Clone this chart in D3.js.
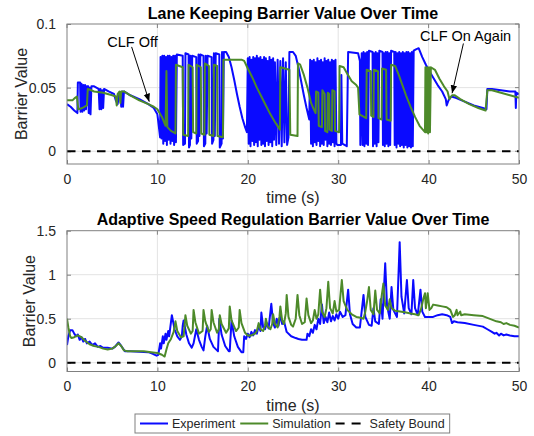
<!DOCTYPE html>
<html>
<head>
<meta charset="utf-8">
<script src="https://cdn.jsdelivr.net/npm/d3@7"></script>
<style>
  body { margin: 0; background: #fff; }
  svg { display: block; font-family: "Liberation Sans", Arial, Helvetica, sans-serif; }
</style>
</head>
<body>
<div id="chart"></div>
<script>
const xTicks = [0, 10, 20, 30, 40, 50];
const yTicksTop = [0, 0.05, 0.1];
const yTicksBottom = [0, 0.5, 1, 1.5];
const safetyBound = 0;

// lane keeping barrier, experiment [time, value]
const expTop = [
  [0,0.037],[0.4,0.035],[0.8,0.032],[1.15,0.030],[1.2,0.054],[1.45,0.054],[1.5,0.031],[1.6,0.053],[1.7,0.031],[1.8,0.052],
  [1.9,0.032],[2.0,0.052],[2.1,0.033],[2.2,0.051],[2.35,0.051],[2.4,0.030],[2.5,0.050],[2.6,0.029],[2.7,0.051],[3.0,0.051],
  [3.5,0.049],[3.6,0.033],[3.7,0.049],[3.8,0.033],[3.9,0.048],[4.0,0.034],[4.1,0.049],[4.6,0.047],[5.2,0.045],[5.4,0.040],
  [5.6,0.037],[5.75,0.044],[5.9,0.046],[6.0,0.035],[6.1,0.047],[6.2,0.035],[6.3,0.047],[7.0,0.044],[8.0,0.041],[9.0,0.037],
  [9.6,0.034],[10.0,0.029],[10.2,0.017],[10.3,0.011],
  [10.35,0.074],[10.45,0.010],[10.55,0.075],[10.65,0.006],[10.75,0.075],[10.85,0.008],[10.95,0.074],[11.05,0.005],[11.15,0.075],
  [11.25,0.009],[11.35,0.075],[11.45,0.006],[11.55,0.074],[11.65,0.008],[11.75,0.075],[11.85,0.005],[11.95,0.075],[12.05,0.007],
  [12.15,0.076],[12.8,0.075],[12.85,0.005],[13.05,0.006],[13.1,0.077],[13.45,0.076],[13.5,0.003],[13.6,0.005],[13.65,0.075],
  [13.75,0.010],[13.85,0.075],[14.3,0.074],[14.35,0.006],[14.5,0.008],[14.55,0.076],[14.65,0.012],[14.75,0.076],[15.1,0.075],
  [15.15,0.004],[15.3,0.006],[15.35,0.075],[15.45,0.014],[15.55,0.075],[16.0,0.074],[16.05,0.006],[16.2,0.009],[16.25,0.077],
  [16.35,0.012],[16.45,0.077],[16.85,0.076],[16.9,0.003],[17.1,0.006],[17.15,0.078],[17.25,0.010],[17.35,0.078],
  [17.6,0.078],[17.9,0.074],[18.2,0.066],[18.5,0.056],[18.8,0.045],[19.1,0.035],[19.4,0.026],[19.7,0.019],[19.9,0.015],
  [20.0,0.073],[20.1,0.006],[20.2,0.074],[20.3,0.004],[20.4,0.072],[20.5,0.008],[20.6,0.074],[20.7,0.005],[20.8,0.073],
  [20.9,0.007],[21.0,0.075],[21.1,0.004],[21.2,0.073],[21.3,0.009],[21.4,0.074],[21.5,0.005],[21.6,0.072],[21.7,0.006],
  [21.8,0.074],[21.9,0.004],[22.0,0.073],[22.1,0.008],[22.2,0.071],[22.3,0.005],[22.4,0.074],[22.5,0.007],[22.6,0.072],
  [22.7,0.004],[22.8,0.073],[22.9,0.009],[23.0,0.070],[23.15,0.005],[23.3,0.072],[23.45,0.006],[23.6,0.071],[23.75,0.004],
  [23.9,0.073],[24.05,0.007],[24.2,0.070],[24.35,0.005],[24.5,0.011],
  [24.6,0.078],[25.0,0.078],[25.3,0.075],[25.6,0.066],[25.9,0.055],[26.2,0.044],[26.5,0.034],[26.8,0.025],
  [26.9,0.072],[27.0,0.006],[27.1,0.071],[27.2,0.004],[27.3,0.072],[27.4,0.007],[27.5,0.070],[27.6,0.005],[27.7,0.073],
  [27.8,0.008],[27.9,0.071],[28.0,0.004],[28.1,0.072],[28.2,0.006],[28.3,0.070],[28.4,0.005],[28.5,0.073],[28.6,0.009],
  [28.7,0.071],[28.8,0.004],[28.9,0.072],[29.0,0.006],[29.1,0.070],[29.2,0.005],[29.3,0.072],[29.4,0.007],[29.5,0.071],
  [29.6,0.004],[29.7,0.072],[29.8,0.006],[29.9,0.005],
  [30.3,0.005],[30.35,0.060],[30.45,0.006],[30.95,0.004],[31.1,0.078],[32.2,0.077],[32.4,0.071],[32.45,0.005],
  [32.6,0.077],[32.7,0.005],[32.8,0.078],[32.9,0.004],[33.0,0.077],[33.1,0.006],[33.2,0.078],[33.3,0.005],[33.4,0.079],
  [33.8,0.078],[33.85,0.004],[33.95,0.077],[34.05,0.006],[34.15,0.078],[34.25,0.004],[34.35,0.077],[34.45,0.007],[34.55,0.079],
  [34.9,0.078],[34.95,0.005],[35.05,0.077],[35.15,0.004],[35.25,0.078],[35.35,0.006],[35.45,0.078],[35.55,0.004],[35.65,0.077],
  [35.75,0.005],[35.85,0.079],[36.2,0.078],[36.25,0.005],[36.35,0.078],[36.45,0.003],[36.55,0.077],[36.65,0.006],[36.75,0.078],
  [36.85,0.004],[36.95,0.077],[37.05,0.005],[37.15,0.078],[37.25,0.003],[37.35,0.077],[37.45,0.005],[37.55,0.078],[37.65,0.003],
  [37.75,0.078],[37.85,0.004],[37.95,0.077],[38.05,0.003],[38.15,0.078],[38.25,0.004],[38.35,0.079],
  [38.6,0.080],[38.9,0.081],[39.3,0.074],[39.7,0.068],[40.0,0.064],[40.5,0.058],[41.0,0.052],[41.5,0.047],[41.9,0.041],
  [42.0,0.036],[42.2,0.040],[42.5,0.043],[43.0,0.042],[44.0,0.039],[45.0,0.036],[46.0,0.034],[46.4,0.033],[46.5,0.049],
  [47.0,0.049],[48.0,0.048],[49.0,0.047],[49.6,0.047],[49.65,0.034],[49.7,0.046],[50,0.045]
];

// lane keeping barrier, simulation
const simTop = [
  [0,0.040],[0.6,0.040],[0.9,0.042],[1.1,0.043],[1.25,0.033],[1.7,0.034],[2.2,0.036],[2.3,0.049],[3.0,0.047],[4.0,0.046],
  [5.0,0.044],[5.4,0.043],[5.5,0.036],[5.6,0.045],[5.8,0.047],[5.9,0.038],[6.0,0.047],[6.3,0.047],[7.0,0.044],[8.0,0.040],
  [9.0,0.037],[9.6,0.035],[10.0,0.033],[10.5,0.027],[10.9,0.020],[11.0,0.063],[11.1,0.019],[11.5,0.016],[12.0,0.014],
  [12.05,0.068],[12.8,0.066],[12.85,0.013],[13.4,0.012],[13.45,0.068],[13.9,0.066],[13.95,0.015],[14.3,0.014],[14.35,0.068],
  [14.8,0.066],[14.85,0.014],[15.2,0.013],[15.25,0.069],[15.7,0.067],[15.75,0.013],[16.2,0.012],[16.25,0.068],[16.6,0.067],
  [16.65,0.012],[17.25,0.011],[17.3,0.072],[19.3,0.072],[19.6,0.071],[20.0,0.065],[20.5,0.058],[21.0,0.050],[21.5,0.043],
  [22.0,0.036],[22.5,0.029],[23.0,0.023],[23.55,0.017],[23.6,0.066],[24.6,0.064],[24.7,0.013],[25.5,0.012],[25.55,0.069],
  [25.8,0.068],[26.2,0.060],[26.6,0.050],[27.0,0.038],[27.3,0.033],[27.5,0.030],[27.55,0.047],[27.8,0.046],[27.85,0.020],
  [28.2,0.019],[28.25,0.048],[28.5,0.045],[28.55,0.016],[28.8,0.015],[28.85,0.046],[29.0,0.045],[29.05,0.017],[29.3,0.016],
  [29.35,0.048],[29.6,0.047],[29.65,0.016],[30.1,0.015],[30.15,0.067],[30.6,0.066],[31.0,0.061],[31.5,0.055],[32.0,0.052],
  [32.2,0.050],[32.35,0.029],[33.1,0.026],[33.15,0.064],[33.6,0.063],[33.65,0.028],[33.9,0.027],[33.95,0.064],[34.4,0.063],
  [34.45,0.026],[34.8,0.025],[34.85,0.065],[35.3,0.064],[35.35,0.025],[35.8,0.024],[35.85,0.068],[36.3,0.067],[36.7,0.060],
  [37.1,0.052],[37.5,0.044],[38.0,0.035],[38.5,0.027],[39.0,0.020],[39.6,0.015],[39.65,0.066],[39.75,0.015],[39.85,0.066],
  [39.95,0.014],[40.05,0.066],[40.15,0.015],[40.25,0.066],[40.7,0.064],[41.2,0.057],[41.7,0.051],[42.1,0.047],[42.3,0.041],
  [42.6,0.044],[42.9,0.044],[43.5,0.041],[44.5,0.037],[45.5,0.034],[46.3,0.032],[46.5,0.048],[47.0,0.048],[48.0,0.046],
  [49.0,0.044],[50,0.042]
];

// adaptive speed regulation barrier, experiment
const expBottom = [
  [0,0.20],[0.15,0.30],[0.35,0.37],[0.6,0.37],[0.8,0.33],[1.0,0.30],[1.2,0.32],[1.4,0.26],[1.6,0.29],[1.8,0.24],[2.0,0.27],
  [2.2,0.22],[2.5,0.24],[2.8,0.20],[3.1,0.22],[3.4,0.18],[3.7,0.19],[4.0,0.17],[4.5,0.17],[5.0,0.16],[5.3,0.18],[5.7,0.23],
  [6.0,0.19],[6.4,0.13],[7.0,0.13],[8.0,0.125],[9.0,0.12],[9.5,0.10],[9.9,0.08],[10.1,0.09],[10.3,0.22],[10.4,0.16],
  [10.6,0.30],[10.7,0.22],[10.9,0.33],[11.0,0.26],[11.2,0.36],[11.3,0.30],[11.6,0.54],[11.9,0.38],[12.2,0.30],[12.5,0.26],
  [12.7,0.30],[12.8,0.42],[12.9,0.48],[13.2,0.32],[13.5,0.22],[13.8,0.17],[14.0,0.22],[14.3,0.38],[14.6,0.26],[14.9,0.18],
  [15.1,0.14],[15.3,0.30],[15.5,0.42],[15.8,0.27],[16.2,0.18],[16.6,0.14],[16.7,0.13],[16.85,0.50],[17.1,0.32],[17.5,0.19],
  [17.9,0.13],[18.0,0.13],[18.2,0.48],[18.5,0.30],[18.9,0.18],[19.3,0.12],[19.5,0.12],[19.6,0.30],[19.8,0.27],[20.0,0.33],
  [20.2,0.29],[20.4,0.35],[20.6,0.31],[20.8,0.37],[21.0,0.33],[21.2,0.42],[21.4,0.36],[21.5,0.57],[21.7,0.40],[21.9,0.38],
  [22.1,0.45],[22.3,0.39],[22.6,0.67],[22.8,0.45],[23.0,0.40],[23.2,0.50],[23.4,0.42],[23.6,0.55],[23.8,0.44],[24.0,0.47],
  [24.1,0.43],[24.3,0.35],[24.8,0.30],[25.3,0.28],[25.6,0.27],[26.0,0.26],[26.5,0.26],[26.6,0.33],[26.8,0.30],[27.0,0.38],
  [27.2,0.34],[27.4,0.43],[27.6,0.38],[27.8,0.50],[28.0,0.44],[28.2,0.66],[28.4,0.45],[28.6,0.52],[28.8,0.46],[29.0,0.57],
  [29.2,0.47],[29.4,0.53],[29.6,0.48],[29.8,0.55],[30.0,0.50],[30.2,0.58],[30.5,0.52],[30.8,0.54],[31.1,0.83],[31.3,0.55],
  [31.6,0.44],[32.0,0.40],[32.4,0.40],[32.8,0.77],[33.0,0.52],[33.4,0.43],[33.7,0.42],[33.9,0.62],[34.1,0.47],[34.5,0.44],
  [34.7,0.72],[34.9,0.50],[35.2,1.13],[35.4,0.65],[35.7,0.50],[35.9,0.86],[36.1,0.60],[36.5,0.52],[36.8,1.37],[37.0,0.75],
  [37.3,0.56],[37.6,0.94],[37.8,0.62],[38.1,0.55],[38.3,0.94],[38.5,0.62],[38.8,0.54],[39.1,0.83],[39.3,0.58],[39.6,0.52],
  [40.0,0.52],[40.5,0.52],[41.0,0.54],[41.5,0.55],[42.0,0.54],[42.4,0.52],[42.6,0.45],[42.8,0.47],[43.2,0.46],[44.0,0.45],
  [45.0,0.43],[46.0,0.41],[46.5,0.38],[47.0,0.35],[47.3,0.33],[47.5,0.34],[47.8,0.31],[48.0,0.33],[48.3,0.31],[48.6,0.32],
  [49.0,0.31],[49.5,0.30],[50,0.30]
];

// adaptive speed regulation barrier, simulation
const simBottom = [
  [0,0.50],[0.15,0.40],[0.35,0.30],[0.5,0.28],[0.8,0.29],[1.2,0.31],[1.6,0.29],[2.0,0.25],[2.5,0.21],[3.0,0.19],[3.5,0.18],
  [4.0,0.16],[4.5,0.15],[5.0,0.16],[5.4,0.19],[5.7,0.22],[6.0,0.19],[6.3,0.14],[6.7,0.13],[7.5,0.13],[8.5,0.13],[9.3,0.12],
  [10.0,0.11],[10.5,0.09],[10.8,0.07],[11.0,0.15],[11.2,0.22],[11.5,0.27],[11.8,0.35],[12.0,0.47],[12.2,0.36],[12.6,0.29],
  [12.9,0.30],[13.1,0.54],[13.3,0.42],[13.7,0.33],[13.9,0.36],[14.0,0.60],[14.2,0.46],[14.6,0.33],[15.0,0.36],[15.1,0.60],
  [15.3,0.47],[15.7,0.35],[15.9,0.38],[16.0,0.60],[16.2,0.46],[16.6,0.34],[16.8,0.38],[16.9,0.54],[17.1,0.44],[17.6,0.34],
  [17.9,0.39],[18.0,0.64],[18.2,0.48],[18.7,0.36],[19.0,0.40],[19.1,0.60],[19.3,0.45],[19.7,0.34],[20.0,0.31],[20.4,0.31],
  [20.8,0.33],[21.0,0.36],[21.2,0.45],[21.4,0.38],[21.7,0.36],[21.9,0.42],[22.0,0.50],[22.2,0.41],[22.5,0.38],[22.7,0.44],
  [22.8,0.55],[23.0,0.44],[23.3,0.40],[23.5,0.52],[23.6,0.64],[23.8,0.48],[24.0,0.44],[24.2,0.56],[24.3,0.77],[24.5,0.52],
  [24.8,0.43],[25.0,0.41],[25.3,0.50],[25.5,0.77],[25.7,0.54],[26.0,0.44],[26.3,0.46],[26.5,0.73],[26.7,0.54],[27.0,0.45],
  [27.2,0.48],[27.4,0.60],[27.6,0.50],[27.8,0.55],[28.0,0.83],[28.2,0.58],[28.5,0.52],[28.7,0.62],[28.9,0.92],[29.1,0.62],
  [29.4,0.56],[29.6,0.70],[29.8,0.58],[30.1,0.60],[30.4,0.94],[30.6,0.70],[31.0,0.60],[31.5,0.55],[32.0,0.52],[32.5,0.51],
  [32.8,0.50],[33.0,0.58],[33.2,0.70],[33.4,0.86],[33.6,0.60],[33.9,0.55],[34.1,0.82],[34.3,0.60],[34.6,0.56],[34.8,0.75],
  [35.0,0.90],[35.2,0.65],[35.5,0.60],[35.7,0.72],[35.9,0.62],[36.3,0.59],[37.0,0.58],[37.5,0.57],[38.0,0.56],[38.5,0.55],
  [38.9,0.54],[39.2,0.62],[39.4,0.72],[39.6,0.79],[39.7,0.62],[39.8,0.70],[39.9,0.79],[40.1,0.60],[40.3,0.62],[40.5,0.66],
  [41.0,0.65],[41.5,0.64],[42.0,0.63],[42.4,0.60],[42.7,0.52],[42.9,0.54],[43.1,0.60],[43.2,0.54],[43.5,0.58],[43.6,0.54],
  [44.0,0.55],[45.0,0.54],[46.0,0.53],[46.5,0.51],[47.0,0.49],[47.5,0.47],[48.0,0.46],[48.3,0.44],[48.6,0.45],[49.0,0.43],
  [49.5,0.42],[50,0.40]
];

const legendItems = ['Experiment', 'Simulation', 'Safety Bound'];

// text position, arrow tail and arrow head in data units (top panel)
const annotations = [
  { text: 'CLF Off', tx: 7.25, ty: 0.0857, x1: 7.15, y1: 0.082, x2: 9.1, y2: 0.039 },
  { text: 'CLF On Again', tx: 44.1, ty: 0.0906, x1: 43.85, y1: 0.0847, x2: 42.6, y2: 0.0456 }
];

const width = 534;
const height = 436;

const colors = {
  exp: '#0a0aff',
  sim: '#4d8a2a',
  bound: '#000',
  grid: '#e3e3e3',
  frame: '#808080',
  text: '#262626'
};

const panels = [
  {
    title: 'Lane Keeping Barrier Value Over Time',
    top: 24, bottom: 164, titleY: 13, xLabelY: 197, yLabelX: 21,
    yDomain: [-0.01, 0.1], yTicks: yTicksTop,
    exp: expTop, sim: simTop, notes: annotations
  },
  {
    title: 'Adaptive Speed Regulation Barrier Value Over Time',
    top: 230.7, bottom: 371.5, titleY: 219, xLabelY: 405, yLabelX: 29,
    yDomain: [-0.1, 1.5], yTicks: yTicksBottom,
    exp: expBottom, sim: simBottom, notes: []
  }
];

const plotLeft = 67;
const plotRight = 519;

const svg = d3
  .select('#chart')
  .append('svg')
  .attr('width', width)
  .attr('height', height);

svg
  .append('defs')
  .append('marker')
  .attr('id', 'arrowhead')
  .attr('viewBox', '0 0 10 10')
  .attr('refX', 10)
  .attr('refY', 5)
  .attr('markerWidth', 8)
  .attr('markerHeight', 8)
  .attr('markerUnits', 'userSpaceOnUse')
  .attr('orient', 'auto')
  .append('path')
  .attr('d', 'M0,1 L10,5 L0,9 Z')
  .attr('fill', '#000');

const x = d3.scaleLinear().domain([0, 50]).range([plotLeft, plotRight]);

panels.forEach((p, pi) => {
  const y = d3.scaleLinear().domain(p.yDomain).range([p.bottom, p.top]);
  const g = svg.append('g').attr('class', 'panel');

  const clipId = 'clip' + pi;
  svg
    .select('defs')
    .append('clipPath')
    .attr('id', clipId)
    .append('rect')
    .attr('x', plotLeft)
    .attr('y', p.top)
    .attr('width', plotRight - plotLeft)
    .attr('height', p.bottom - p.top);

  // grid
  g.append('g')
    .selectAll('line.vx')
    .data(xTicks.slice(1, -1))
    .join('line')
    .attr('x1', (d) => x(d))
    .attr('x2', (d) => x(d))
    .attr('y1', p.top)
    .attr('y2', p.bottom)
    .attr('stroke', colors.grid);

  g.append('g')
    .selectAll('line')
    .data(p.yTicks.filter((d) => y(d) > p.top + 1))
    .join('line')
    .attr('x1', plotLeft)
    .attr('x2', plotRight)
    .attr('y1', (d) => y(d))
    .attr('y2', (d) => y(d))
    .attr('stroke', colors.grid);

  // axes, ticks point inward like matlab
  const xAxis = g
    .append('g')
    .attr('transform', `translate(0, ${p.bottom})`)
    .call(d3.axisBottom(x).tickValues(xTicks).tickSize(-4).tickPadding(10));

  const yAxis = g
    .append('g')
    .attr('transform', `translate(${plotLeft}, 0)`)
    .call(
      d3.axisLeft(y)
        .tickValues(p.yTicks)
        .tickSize(-4)
        .tickPadding(11)
        .tickFormat((d) => String(d))
    );

  [xAxis, yAxis].forEach((a) => {
    a.select('.domain').remove();
    a.selectAll('line').attr('stroke', colors.frame);
    a.selectAll('text')
      .attr('fill', colors.text)
      .style('font-size', '14px');
  });

  // mirrored ticks on top and right
  g.append('g')
    .selectAll('line')
    .data(xTicks)
    .join('line')
    .attr('x1', (d) => x(d))
    .attr('x2', (d) => x(d))
    .attr('y1', p.top)
    .attr('y2', p.top + 4)
    .attr('stroke', colors.frame);

  g.append('g')
    .selectAll('line')
    .data(p.yTicks)
    .join('line')
    .attr('x1', plotRight - 4)
    .attr('x2', plotRight)
    .attr('y1', (d) => y(d))
    .attr('y2', (d) => y(d))
    .attr('stroke', colors.frame);

  // series
  const line = d3
    .line()
    .x((d) => x(d[0]))
    .y((d) => y(d[1]));

  const plot = g.append('g').attr('clip-path', `url(#${clipId})`);

  plot
    .append('path')
    .datum(p.exp)
    .attr('d', line)
    .attr('fill', 'none')
    .attr('stroke', colors.exp)
    .attr('stroke-width', 2)
    .attr('stroke-linejoin', 'round');

  plot
    .append('path')
    .datum(p.sim)
    .attr('d', line)
    .attr('fill', 'none')
    .attr('stroke', colors.sim)
    .attr('stroke-width', 2)
    .attr('stroke-linejoin', 'round');

  plot
    .append('line')
    .attr('x1', x(0))
    .attr('x2', x(50))
    .attr('y1', y(safetyBound))
    .attr('y2', y(safetyBound))
    .attr('stroke', colors.bound)
    .attr('stroke-width', 2)
    .attr('stroke-dasharray', '8.5,6.5');

  // frame
  g.append('rect')
    .attr('x', plotLeft)
    .attr('y', p.top)
    .attr('width', plotRight - plotLeft)
    .attr('height', p.bottom - p.top)
    .attr('fill', 'none')
    .attr('stroke', colors.frame);

  // labels
  g.append('text')
    .text(p.title)
    .attr('x', (plotLeft + plotRight) / 2)
    .attr('y', p.titleY)
    .attr('dy', '0.35em')
    .attr('text-anchor', 'middle')
    .style('font-size', '16px')
    .style('font-weight', 'bold')
    .attr('fill', '#000');

  g.append('text')
    .text('time (s)')
    .attr('x', (plotLeft + plotRight) / 2)
    .attr('y', p.xLabelY)
    .attr('dy', '0.35em')
    .attr('text-anchor', 'middle')
    .style('font-size', '16px')
    .attr('fill', colors.text);

  g.append('text')
    .text('Barrier Value')
    .attr('transform', `translate(${p.yLabelX}, ${(p.top + p.bottom) / 2}) rotate(-90)`)
    .attr('dy', '0.35em')
    .attr('text-anchor', 'middle')
    .style('font-size', '16px')
    .attr('fill', colors.text);

  // annotations with arrows
  const notes = g.append('g').attr('class', 'notes');
  notes
    .selectAll('text')
    .data(p.notes)
    .join('text')
    .text((d) => d.text)
    .attr('x', (d) => x(d.tx))
    .attr('y', (d) => y(d.ty))
    .attr('dy', '0.35em')
    .attr('text-anchor', 'middle')
    .style('font-size', '14.5px')
    .attr('fill', '#000');

  notes
    .selectAll('line')
    .data(p.notes)
    .join('line')
    .attr('x1', (d) => x(d.x1))
    .attr('y1', (d) => y(d.y1))
    .attr('x2', (d) => x(d.x2))
    .attr('y2', (d) => y(d.y2))
    .attr('stroke', '#000')
    .attr('stroke-width', 1)
    .attr('marker-end', 'url(#arrowhead)');
});

// legend
const legend = svg.append('g').attr('class', 'legend');
const legendBox = legend
  .append('rect')
  .attr('x', 135)
  .attr('y', 414)
  .attr('height', 19)
  .attr('fill', '#fff')
  .attr('stroke', colors.frame);

const legendStyles = [
  { color: colors.exp, dash: null },
  { color: colors.sim, dash: null },
  { color: colors.bound, dash: '9,7' }
];

let cursor = 140;
legendItems.forEach((name, i) => {
  const s = legendStyles[i];
  legend
    .append('line')
    .attr('x1', cursor)
    .attr('x2', cursor + 28)
    .attr('y1', 423.5)
    .attr('y2', 423.5)
    .attr('stroke', s.color)
    .attr('stroke-width', 2)
    .attr('stroke-dasharray', s.dash);
  const t = legend
    .append('text')
    .text(name)
    .attr('x', cursor + (s.dash ? 34 : 32))
    .attr('y', 423.5)
    .attr('dy', '0.35em')
    .style('font-size', '12.5px')
    .attr('fill', colors.text);
  cursor += (s.dash ? 34 : 32) + t.node().getComputedTextLength() + 5;
});
legendBox.attr('width', cursor - 135);
</script>
</body>
</html>
